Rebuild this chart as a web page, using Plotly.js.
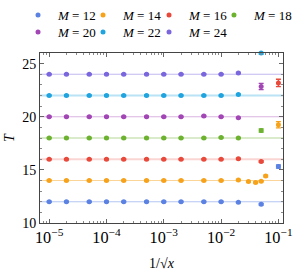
<!DOCTYPE html>
<html>
<head>
<meta charset="utf-8">
<script src="https://cdn.plot.ly/plotly-3.0.1.min.js"></script>
<style>html,body{margin:0;padding:0;background:#fff;}#chart{width:293px;height:271px;}</style>
</head>
<body>
<div id="chart"></div>
<script>
// Sizes M of each series
const M_values = [12, 14, 16, 18, 20, 22, 24];
const colors = ['#5b82e3', '#f7a21b', '#e8493b', '#6cb22f', '#a246b5', '#1fa4df', '#7a66dd'];

// 1/sqrt(x) values
const x12 = [1e-5, 2e-5, 5e-5, 1e-4, 2e-4, 5e-4, 1e-3, 2e-3, 5e-3, 1e-2, 2e-2, 5e-2, 1e-1];
const T12 = [12, 12, 12, 12, 12, 12, 12, 12, 12, 12, 11.95, 11.76, 15.31];
const e12 = [0.05, 0.05, 0.05, 0.05, 0.05, 0.05, 0.05, 0.05, 0.05, 0.05, 0.05, 0.08, 0.15];

const x14 = [1e-5, 2e-5, 5e-5, 1e-4, 2e-4, 5e-4, 1e-3, 2e-3, 5e-3, 1e-2, 2e-2, 3e-2, 4e-2, 5e-2, 6e-2, 1e-1];
const T14 = [14, 14, 14, 14, 14, 14, 14, 14, 14, 14, 14.05, 13.9, 13.82, 13.93, 14.43, 19.25];
const e14 = [0.05, 0.05, 0.05, 0.05, 0.05, 0.05, 0.05, 0.05, 0.05, 0.05, 0.05, 0.06, 0.06, 0.06, 0.08, 0.3];

const x16 = [1e-5, 2e-5, 5e-5, 1e-4, 2e-4, 5e-4, 1e-3, 2e-3, 5e-3, 1e-2, 2e-2, 5e-2, 1e-1];
const T16 = [16, 16, 16, 16, 16, 16, 16, 16, 16, 16, 16.05, 15.78, 23.18];
const e16 = [0.05, 0.05, 0.05, 0.05, 0.05, 0.05, 0.05, 0.05, 0.05, 0.05, 0.05, 0.08, 0.35];

const x18 = [1e-5, 2e-5, 5e-5, 1e-4, 2e-4, 5e-4, 1e-3, 2e-3, 5e-3, 1e-2, 2e-2, 5e-2];
const T18 = [18, 18, 18, 18, 18, 18, 18, 18, 18, 18.05, 18, 18.7];
const e18 = [0.05, 0.05, 0.05, 0.05, 0.05, 0.05, 0.05, 0.05, 0.05, 0.05, 0.05, 0.15];

const x20 = [1e-5, 2e-5, 5e-5, 1e-4, 2e-4, 5e-4, 1e-3, 2e-3, 5e-3, 1e-2, 2e-2, 5e-2];
const T20 = [20, 20, 20, 20, 20, 20, 20, 20, 20.07, 20, 19.9, 22.85];
const e20 = [0.05, 0.05, 0.05, 0.05, 0.05, 0.05, 0.05, 0.05, 0.05, 0.05, 0.05, 0.3];

const x22 = [1e-5, 2e-5, 5e-5, 1e-4, 2e-4, 5e-4, 1e-3, 2e-3, 5e-3, 1e-2, 2e-2, 5e-2];
const T22 = [22, 22, 22, 22, 22, 22, 22, 22, 22, 22, 22.1, 26.0];
const e22 = [0.05, 0.05, 0.05, 0.05, 0.05, 0.05, 0.05, 0.05, 0.05, 0.05, 0.05, 0.1];

const x24 = [1e-5, 2e-5, 5e-5, 1e-4, 2e-4, 5e-4, 1e-3, 2e-3, 5e-3, 1e-2, 2e-2];
const T24 = [24, 24, 24, 24, 24, 24, 24, 24, 24, 24, 24.12];
const e24 = [0.05, 0.05, 0.05, 0.05, 0.05, 0.05, 0.05, 0.05, 0.05, 0.05, 0.05];

const xs = [x12, x14, x16, x18, x20, x22, x24];
const Ts = [T12, T14, T16, T18, T20, T22, T24];
const es = [e12, e14, e16, e18, e20, e22, e24];
const lineWidths = [1.2, 1.2, 2.2, 1.2, 1.2, 2.2, 1.2];
const lineOpacity = [0.45, 0.45, 0.22, 0.5, 0.4, 0.3, 0.45];

// legend placement (one small legend per series, in a 4-column grid)
const legendCols = [-0.0905, 0.177, 0.4486, 0.716];
const legendRows = [1.311, 1.211];
const legendIds = ['legend', 'legend2', 'legend3', 'legend4', 'legend5', 'legend6', 'legend7'];

const traces = M_values.map((m, i) => ({
  type: 'scatter', mode: 'markers',
  x: xs[i], y: Ts[i],
  name: '<i>M</i> = ' + m,
  legend: legendIds[i],
  marker: {color: colors[i], size: 5, symbol: 'circle'},
  error_y: {type: 'data', array: es[i], visible: true, color: colors[i], thickness: 1.3, width: 2.5},
  cliponaxis: false
}));

const shapes = M_values.map((m, i) => ({
  type: 'line', xref: 'paper', x0: 0, x1: 1, yref: 'y', y0: m, y1: m,
  line: {color: colors[i], width: lineWidths[i]}, opacity: lineOpacity[i], layer: 'below'
}));

const serif = 'Liberation Serif, Times New Roman, serif';
const layout = {
  width: 293, height: 271,
  margin: {l: 40, r: 10, t: 53, b: 48, autoexpand: false},
  paper_bgcolor: '#fff', plot_bgcolor: '#fff',
  font: {family: serif, size: 13, color: '#000'},
  showlegend: true,
  shapes: shapes,
  xaxis: {
    type: 'log', range: [-5.16, -0.92], dtick: 1, exponentformat: 'power',
    showgrid: false, zeroline: false,
    showline: true, linecolor: '#444', linewidth: 1, mirror: 'allticks',
    ticks: 'inside', ticklen: 4, tickcolor: '#666', tickwidth: 1,
    tickfont: {family: serif, size: 13, color: '#000'},
    minor: {dtick: 'D1', ticks: 'inside', ticklen: 2, tickcolor: '#888', showgrid: false},
    title: {text: '1/√<i>x</i>', font: {family: serif, size: 14, color: '#000'}, standoff: 14}
  },
  yaxis: {
    range: [10, 26], dtick: 5, tick0: 10,
    showgrid: false, zeroline: false,
    showline: true, linecolor: '#444', linewidth: 1, mirror: 'allticks',
    ticks: 'inside', ticklen: 4, tickcolor: '#666', tickwidth: 1,
    tickfont: {family: serif, size: 14, color: '#000'},
    minor: {dtick: 1, ticks: 'inside', ticklen: 2, tickcolor: '#888', showgrid: false},
    title: {text: '<i>T</i>', font: {family: serif, size: 14, color: '#000'}, standoff: 4}
  }
};

legendIds.forEach((id, i) => {
  layout[id] = {
    orientation: 'v', xref: 'paper', yref: 'paper',
    x: legendCols[i % 4], y: legendRows[Math.floor(i / 4)],
    xanchor: 'left', yanchor: 'top',
    font: {family: serif, size: 13, color: '#000'},
    bgcolor: 'rgba(0,0,0,0)', borderwidth: 0, itemwidth: 30
  };
});

Plotly.newPlot('chart', traces, layout, {displayModeBar: false, staticPlot: true});
</script>
</body>
</html>
